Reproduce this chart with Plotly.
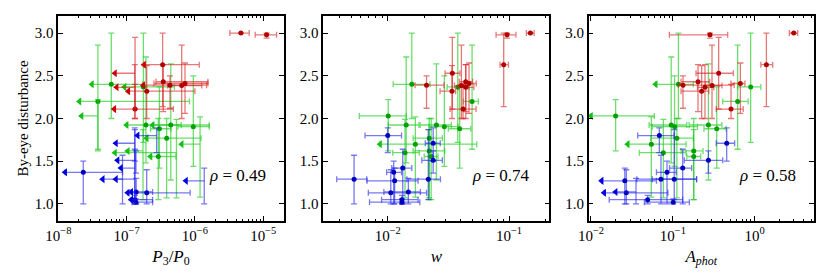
import plotly.graph_objects as go

# ---- objects: group, by-eye disturbance (value, lower end, upper end) ----
groups = ['red'] * 11 + ['green'] * 13 + ['blue'] * 12
dist = [3.00, 2.98, 2.63, 2.53, 2.43, 2.41, 2.385, 2.39, 2.365, 2.32, 2.11,
        2.40, 2.03, 2.37, 2.20, 1.924, 1.924, 1.904, 1.88, 1.77, 1.70, 1.62, 1.60, 1.555,
        1.80, 1.71, 1.51, 1.42, 1.37, 1.29, 1.27, 1.29, 1.13, 1.14, 1.05, 1.02]
dist_lo = [3.00, 2.94, 2.14, 2.11, 2.08, 2.06, 2.00, 2.12, 2.00, 2.00, 2.00,
           2.00, 1.62, 1.72, 1.64, 1.48, 1.28, 1.44, 1.42, 1.07, 1.08, 1.05, 1.07, 1.05,
           1.60, 1.50, 1.36, 1.00, 1.00, 1.00, 1.00, 1.05, 1.00, 1.00, 1.00, 1.00]
dist_hi = [3.00, 3.00, 3.00, 2.95, 2.63, 2.65, 2.86, 2.50, 2.63, 2.62, 2.40,
           3.00, 2.22, 3.00, 2.86, 2.72, 2.64, 2.50, 2.37, 2.00, 2.02, 1.87, 1.99, 2.00,
           1.89, 1.89, 1.62, 1.64, 1.50, 1.57, 1.42, 1.87, 1.40, 1.30, 1.10, 1.06]

# ---- P3/P0 (None = upper limit only) ----
p3p0 = [4.71e-6, 1.12e-5, 3.37e-7, None, 3.44e-7, 7.16e-7, 6.41e-7, 4.32e-7, None, 1.97e-7, 1.33e-7,
        5.97e-8, None, 1.76e-7, 3.80e-8, 1.92e-7, 4.43e-7, 9.48e-7, 3.02e-7, 3.86e-7, None, None, None, 2.91e-7,
        None, None, None, None, 2.32e-8, None, None, None, 1.97e-7, 1.38e-7, 1.32e-7, 1.37e-7]
p3p0_lo = [3.25e-6, 7.64e-6, 1.80e-7, 6.76e-8, 2.69e-7, 2.51e-7, 3.98e-7, 1.76e-7, 7.16e-8, 1.06e-7, 6.61e-8,
           3.11e-8, 2.19e-8, 9.33e-8, 2.04e-8, 1.00e-7, 2.41e-7, 5.62e-7, 2.24e-7, 1.97e-7, 6.41e-7, 1.04e-7, 6.76e-8, 2.24e-7,
           1.45e-7, 6.98e-8, 7.38e-8, 8.26e-8, 1.26e-8, 4.47e-8, 7.41e-7, 6.98e-8, 1.04e-7, 1.17e-7, 1.17e-7, 1.20e-7]
p3p0_hi = [6.24e-6, 1.57e-5, 1.16e-6, 1.33e-7, 1.55e-6, 1.55e-6, 1.26e-6, 1.48e-6, 1.32e-7, 1.00e-6, 4.83e-7,
           1.71e-7, 3.80e-8, 5.01e-7, 8.32e-7, 6.31e-7, 1.62e-6, 1.62e-6, 4.47e-7, 1.23e-6, 1.19e-6, 1.74e-7, 5.37e-7, 5.27e-7,
           2.75e-7, 1.32e-7, 1.37e-7, 1.32e-7, 8.71e-8, 8.71e-8, 1.37e-6, 1.32e-7, 8.51e-7, 2.40e-7, 2.40e-7, 2.40e-7]
p3p0_arrow = [0, 0, 1, 1, 0, 0, 0, 1, 1, 1, 1,
              1, 1, 1, 1, 1, 1, 0, 0, 1, 1, 1, 1, 1,
              1, 1, 1, 1, 1, 1, 1, 1, 1, 1, 1, 0]

# ---- w ----
w_val = [0.150, 0.0964, 0.0904, 0.0341, 0.0440, 0.0468, 0.0405, 0.0209, 0.0440, 0.0339, 0.0418,
         0.0158, 0.0101, 0.0378, 0.0496, 0.0142, 0.0252, 0.0293, 0.0392, 0.0220, 0.0169, 0.0220, 0.0139, 0.0228,
         0.0100, 0.0237, 0.0237, 0.0133, 0.0112, 0.00528, 0.0114, 0.0216, 0.0106, 0.0148, 0.0131, 0.0131]
w_lo = [0.139, 0.0782, 0.0843, 0.0297, 0.0389, 0.0427, 0.0355, 0.0168, 0.0380, 0.0270, 0.0327,
        0.0111, 0.00583, 0.0309, 0.0421, 0.0101, 0.0185, 0.0219, 0.0316, 0.0162, 0.00865, 0.0162, 0.0110, 0.0200,
        0.0065, 0.0204, 0.0191, 0.0108, 0.0098, 0.0038, 0.00676, 0.0144, 0.00692, 0.0093, 0.0089, 0.00708]
w_hi = [0.161, 0.114, 0.0989, 0.0394, 0.0501, 0.0537, 0.0457, 0.0291, 0.0513, 0.0363, 0.0535,
        0.0223, 0.0142, 0.0468, 0.0558, 0.0181, 0.0335, 0.0380, 0.0484, 0.0282, 0.0542, 0.0295, 0.0182, 0.0260,
        0.0130, 0.0271, 0.0282, 0.0158, 0.0130, 0.00671, 0.0178, 0.0272, 0.0209, 0.0186, 0.0178, 0.0184]
w_arrow = [0] * 20 + [1] + [0] * 15

# ---- A_phot ----
aphot = [3.0, 0.284, 1.39, 0.363, 0.203, 0.668, 0.301, 0.133, 0.247, 0.225, 0.514,
         0.117, 0.0200, 0.893, 0.619, 0.0955, 0.272, 0.105, 0.344, 0.112, 0.0546, 0.180, 0.0766, 0.180,
         0.0684, 0.455, 0.272, 0.132, 0.0849, 0.0716, 0.0259, 0.104, 0.0270, None, 0.0492, 0.101]
aphot_lo = [2.65, 0.0906, 1.19, 0.192, 0.126, 0.513, 0.251, 0.117, 0.200, 0.126, 0.339,
            0.0617, 0.0100, 0.619, 0.407, 0.0513, 0.158, 0.0562, 0.240, 0.0537, 0.0281, 0.126, 0.0389, 0.148,
            0.0372, 0.339, 0.138, 0.0912, 0.0631, 0.0363, 0.0135, 0.0562, 0.0145, 0.0200, 0.0167, 0.0449]
aphot_hi = [3.35, 0.468, 1.66, 0.548, 0.282, 0.759, 0.398, 0.562, 0.316, 0.275, 0.724,
            0.178, 0.0594, 1.19, 0.832, 0.148, 0.398, 0.200, 0.447, 0.178, 0.145, 0.234, 0.145, 0.219,
            0.1035, 0.569, 0.407, 0.170, 0.110, 0.195, 0.0631, 0.195, 0.0871, 0.0355, 0.132, 0.159]
aphot_arrow = [0] * 11 + [1, 1] + [0] * 7 + [1] + [0] * 9 + [1, 0, 1, 1, 0, 0]

rho_text = ['0.49', '0.74', '0.58']
xtick_vals = [[1e-8, 1e-7, 1e-6, 1e-5], [1e-2, 1e-1], [1e-2, 1e-1, 1e0]]
xtick_text = [['10<sup>−8</sup>', '10<sup>−7</sup>', '10<sup>−6</sup>', '10<sup>−5</sup>'],
              ['10<sup>−2</sup>', '10<sup>−1</sup>'],
              ['10<sup>−2</sup>', '10<sup>−1</sup>', '10<sup>0</sup>']]
xtitles = ['<i>P</i><sub>3</sub>/<i>P</i><sub>0</sub>', '<i>w</i>', '<i>A<sub>phot</sub></i>']

mark_col = {'red': '#b00000', 'green': '#00a000', 'blue': '#0000c0'}
bar_col = {'red': 'rgba(215,30,30,0.6)', 'green': 'rgba(30,205,30,0.65)', 'blue': 'rgba(30,30,235,0.6)'}
arrow_col = {'red': '#cc0000', 'green': '#14c014', 'blue': '#0000e0'}

panels = [(p3p0, p3p0_lo, p3p0_hi, p3p0_arrow),
          (w_val, w_lo, w_hi, w_arrow),
          (aphot, aphot_lo, aphot_hi, aphot_arrow)]

fig = go.Figure()
for pi, (xv, xl, xh, xa) in enumerate(panels):
    xax = 'x' if pi == 0 else 'x%d' % (pi + 1)
    yax = 'y' if pi == 0 else 'y%d' % (pi + 1)
    for g in ['green', 'blue', 'red']:
        idx = [i for i in range(len(dist)) if groups[i] == g]
        det = [i for i in idx if xv[i] is not None]
        lim = [i for i in idx if xv[i] is None]
        fig.add_trace(go.Scatter(
            x=[xv[i] for i in det], y=[dist[i] for i in det], mode='markers',
            xaxis=xax, yaxis=yax, showlegend=False,
            marker=dict(color=mark_col[g], size=5, symbol='circle'),
            error_x=dict(type='data', symmetric=False,
                         array=[xh[i] - xv[i] for i in det],
                         arrayminus=[xv[i] - xl[i] for i in det],
                         color=bar_col[g], thickness=1.3, width=3),
            error_y=dict(type='data', symmetric=False,
                         array=[dist_hi[i] - dist[i] for i in det],
                         arrayminus=[dist[i] - dist_lo[i] for i in det],
                         color=bar_col[g], thickness=1.3, width=3)))
        if lim:
            fig.add_trace(go.Scatter(
                x=[xh[i] for i in lim], y=[dist[i] for i in lim], mode='markers',
                xaxis=xax, yaxis=yax, showlegend=False,
                marker=dict(color=mark_col[g], size=1, opacity=0),
                error_x=dict(type='data', symmetric=False,
                             array=[0 for i in lim],
                             arrayminus=[xh[i] - xl[i] for i in lim],
                             color=bar_col[g], thickness=1.3, width=0),
                error_y=dict(type='data', symmetric=False,
                             array=[dist_hi[i] - dist[i] for i in lim],
                             arrayminus=[dist[i] - dist_lo[i] for i in lim],
                             color=bar_col[g], thickness=1.3, width=3)))
        arr = [i for i in idx if xa[i]]
        if arr:
            fig.add_trace(go.Scatter(
                x=[xl[i] for i in arr], y=[dist[i] for i in arr], mode='markers',
                xaxis=xax, yaxis=yax, showlegend=False,
                marker=dict(color=arrow_col[g], size=7, symbol='triangle-left', line=dict(width=0))))

font_family = 'Liberation Serif, serif'
W, H, OFF = 830, 277, 8  # page body margin compensation
def fx(px):
    return (px - OFF) / W
def fy(py):
    return 1 - (py - OFF) / H

xdomains = [[fx(58.3), fx(283.7)], [fx(323.3), fx(549.3)], [fx(588.7), fx(813.7)]]
xranges = [[-8.0, -4.70], [-2.531, -0.668], [-2.028, 0.721]]
ydom = [fy(221), fy(16)]
rho_x = [0.93, 0.925, 0.93]

layout = dict(width=W, height=H, margin=dict(l=0, r=0, t=0, b=0),
              paper_bgcolor='white', plot_bgcolor='white',
              font=dict(family=font_family, size=15, color='black'))
for pi in range(3):
    sx = 'xaxis' if pi == 0 else 'xaxis%d' % (pi + 1)
    sy = 'yaxis' if pi == 0 else 'yaxis%d' % (pi + 1)
    ya = 'y' if pi == 0 else 'y%d' % (pi + 1)
    xa_ = 'x' if pi == 0 else 'x%d' % (pi + 1)
    layout[sx] = dict(domain=xdomains[pi], anchor=ya, type='log', range=xranges[pi],
                      showline=True, linecolor='black', linewidth=1.5, mirror='allticks',
                      ticks='inside', ticklen=5, tickwidth=1, tickcolor='black',
                      tickvals=xtick_vals[pi], ticktext=xtick_text[pi],
                      showgrid=False, zeroline=False, automargin=False,
                      tickfont=dict(family=font_family, size=15),
                      minor=dict(ticks='inside', ticklen=2.5, tickwidth=0.8, tickcolor='black',
                                 dtick='D1', showgrid=False),
                      title=dict(text=xtitles[pi], standoff=7,
                                 font=dict(family=font_family, size=17)))
    layout[sy] = dict(domain=ydom, anchor=xa_, range=[0.8, 3.2],
                      tickvals=[1.0, 1.5, 2.0, 2.5, 3.0], tickformat='.1f',
                      showline=True, linecolor='black', linewidth=1.5, mirror='allticks',
                      ticks='inside', ticklen=5, tickwidth=1, tickcolor='black',
                      showgrid=False, zeroline=False, automargin=False,
                      tickfont=dict(family=font_family, size=15),
                      title=dict(text='By-eye disturbance' if pi == 0 else '', standoff=3,
                                 font=dict(family=font_family, size=15)))
fig.update_layout(**layout)

for pi in range(3):
    fig.add_annotation(text='<i>ρ</i> = ' + rho_text[pi],
                       xref=('x' if pi == 0 else 'x%d' % (pi + 1)) + ' domain', x=rho_x[pi],
                       xanchor='right', yref='y' if pi == 0 else 'y%d' % (pi + 1), y=1.33,
                       yanchor='middle', showarrow=False,
                       font=dict(family=font_family, size=17, color='black'))

fig.write_html('out.html')
